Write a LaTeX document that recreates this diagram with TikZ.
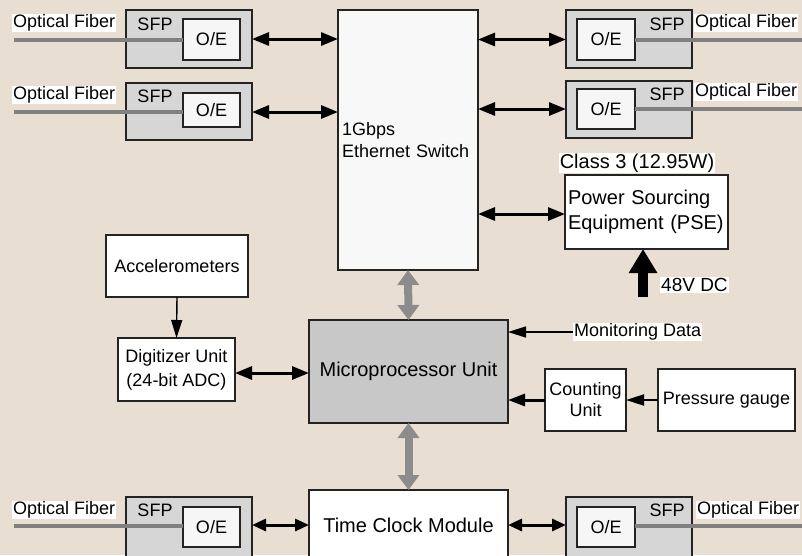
\documentclass[tikz,border=0pt]{standalone}
\usepackage{fontspec}
\setmainfont{Liberation Sans}
\usetikzlibrary{arrows.meta}
\definecolor{bg}{RGB}{232,222,210}
\definecolor{edge}{RGB}{35,35,35}
\definecolor{sfpfill}{RGB}{214,214,214}
\definecolor{oefill}{RGB}{246,246,246}
\definecolor{swfill}{RGB}{248,248,248}
\definecolor{microfill}{RGB}{200,200,200}
\definecolor{fibercol}{RGB}{128,128,128}
\definecolor{garrow}{RGB}{140,140,140}
\begin{document}
\begin{tikzpicture}[x=1pt,y=-1pt,
  box/.style={draw=edge,line width=1.5pt,fill=white,inner sep=0pt,outer sep=0pt,font=\fontsize{18}{22}\selectfont,align=center},
  sfpbox/.style={box,fill=sfpfill,minimum width=126pt},
  oebox/.style={box,fill=oefill,minimum width=57pt},
  lbl/.style={font=\fontsize{18}{22}\selectfont,inner sep=1pt},
  wlbl/.style={lbl,fill=white},
  fiberline/.style={draw=fibercol,line width=4pt},
  dbl/.style={line width=3pt,{Triangle[length=17pt,width=13pt]}-{Triangle[length=17pt,width=13pt]}},
  dblshort/.style={line width=3pt,{Triangle[length=14pt,width=12pt]}-{Triangle[length=14pt,width=12pt]}},
  thinarrow/.style={line width=1.4pt,-{Triangle[length=18pt,width=11pt]}},
  thickarrow/.style={line width=3pt,-{Triangle[length=17pt,width=12pt]}},
  grayarrow/.style={draw=garrow,line width=8pt,{Triangle[length=15pt,width=21pt]}-{Triangle[length=15pt,width=21pt]}},
  bigarrow/.style={line width=10pt,-{Triangle[length=24pt,width=27pt]}}
]
\clip (0,0) rectangle (802,555);
\fill[bg] (0,0) rectangle (802,555);

% ---- SFP modules, left
\node[sfpbox,minimum height=58pt] (sfpL1) at (189,39) {};
\node[sfpbox,minimum height=57pt] (sfpL2) at (189,111.5) {};
\node[sfpbox,minimum height=73pt] (sfpBL) at (189,533.5) {};
% ---- SFP modules, right
\node[sfpbox,minimum height=58pt] (sfpR1) at (629,39) {};
\node[sfpbox,minimum height=57pt] (sfpR2) at (629,109.5) {};
\node[sfpbox,minimum height=73pt] (sfpBR) at (629,533.5) {};

% fiber lines
\coordinate (fL1) at (14,39.5);
\coordinate (fL2) at (14,112);
\coordinate (fBL) at (14,526);
\coordinate (fR1) at (802,40);
\coordinate (fR2) at (802,109);
\coordinate (fBR) at (802,526);

\node[oebox,minimum height=41pt] (oeL1) at (211.5,39.5) {O/E};
\node[oebox,minimum height=34pt] (oeL2) at (211.5,110) {O/E};
\node[oebox,minimum height=40pt] (oeBL) at (211.5,527) {O/E};
\node[oebox,minimum height=41pt,minimum width=58pt] (oeR1) at (606,39.5) {O/E};
\node[oebox,minimum height=40pt,minimum width=58pt] (oeR2) at (606,109) {O/E};
\node[oebox,minimum height=40pt,minimum width=58pt] (oeBR) at (606,527) {O/E};

\draw[fiberline] (fL1) -- (fL1 -| oeL1.west);
\draw[fiberline] (fL2) -- (fL2 -| oeL2.west);
\draw[fiberline] (fBL) -- (fBL -| oeBL.west);
\draw[fiberline] (fR1) -- (fR1 -| oeR1.east);
\draw[fiberline] (fR2) -- (fR2 -| oeR2.east);
\draw[fiberline] (fBR) -- (fBR -| oeBR.east);

% SFP labels
\node[lbl] (sL1) at (155,24) {SFP};
\node[lbl] (sL2) at (155,96) {SFP};
\node[lbl] (sBL) at (155,510) {SFP};
\node[lbl] (sR1) at (667,24) {SFP};
\node[lbl] (sR2) at (667,94) {SFP};
\node[lbl] (sBR) at (667,510) {SFP};

% Optical fiber labels
\node[wlbl,anchor=west] (ofL1) at (12,23) {Optical Fiber};
\node[wlbl,anchor=west] (ofL2) at (12,95) {Optical Fiber};
\node[wlbl,anchor=west] (ofBL) at (12,510) {Optical Fiber};
\node[wlbl,anchor=west] (ofR1) at (694,23) {Optical Fiber};
\node[wlbl,anchor=west] (ofR2) at (694,92) {Optical Fiber};
\node[wlbl,anchor=west] (ofBR) at (696,510) {Optical Fiber};

% ---- main blocks
\node[box,fill=swfill,minimum width=140pt,minimum height=260pt,text width=132pt,align=left] (sw) at (408,140) {1Gbps\\Ethernet Switch};
\node[box,minimum width=163pt,minimum height=74pt,text width=157pt,align=left,font=\fontsize{20}{25}\selectfont] (pse) at (646.5,212) {Power Sourcing\\Equipment (PSE)};
\node[wlbl,font=\fontsize{20}{24}\selectfont] (cls) at (637,163) {Class 3 (12.95W)};
\node[box,minimum width=142pt,minimum height=62pt] (acc) at (177,266) {Accelerometers};
\node[box,minimum width=117pt,minimum height=63pt,font=\fontsize{18}{24}\selectfont] (dig) at (176.5,369.5) {Digitizer Unit\\(24-bit ADC)};
\node[box,fill=microfill,minimum width=199pt,minimum height=103pt,font=\fontsize{20}{24}\selectfont] (micro) at (408.5,371.5) {Microprocessor Unit};
\node[box,minimum width=81pt,minimum height=62pt,font=\fontsize{18}{21}\selectfont] (cnt) at (585.5,400) {Counting\\Unit};
\node[box,minimum width=137pt,minimum height=62pt] (pg) at (726.5,400) {Pressure gauge};
\node[box,minimum width=199pt,minimum height=70pt,font=\fontsize{20}{24}\selectfont] (tcm) at (408.5,525) {Time Clock Module};

\node[wlbl,anchor=west] (mon) at (573,332) {Monitoring Data};
\node[wlbl,anchor=west,font=\fontsize{19}{23}\selectfont] (dc) at (660,285) {48V DC};
\coordinate (dcbase) at (643,297);

% ---- connectors
\draw[dbl] (sfpL1.east) -- (sfpL1.east -| sw.west);
\draw[dbl] (sfpL2.east |- oeL2.east) ++(0,2) coordinate (aL2) (aL2) -- (aL2 -| sw.west);
\draw[dbl] (sw.east |- oeR1.east) -- (sfpR1.west |- oeR1.east);
\draw[dbl] (sw.east |- oeR2.east) -- (sfpR2.west |- oeR2.east);
\draw[dbl] (sw.east |- pse.west) ++(0,2) coordinate (aP) (aP) -- (aP -| pse.west);
\draw[dbl] (dig.east) ++(0,3.5) coordinate (aD) (aD) -- (aD -| micro.west);
\draw[dblshort] (tcm.west) -- (tcm.west -| sfpBL.east);
\draw[dblshort] (tcm.east) -- (tcm.east -| sfpBR.west);
\draw[thinarrow] (acc.south) -- (dig.north);
\draw[thinarrow] (mon.west) -- (mon.west -| micro.east);
\draw[thickarrow] (cnt.west) -- (cnt.west -| micro.east);
\draw[thinarrow,line width=2pt] (pg.west) -- (cnt.east);
\draw[grayarrow] (sw.south) -- (micro.north);
\draw[grayarrow] (micro.south) -- (tcm.north);
\draw[bigarrow] (dcbase) -- (dcbase |- pse.south);
\end{tikzpicture}
\end{document}
